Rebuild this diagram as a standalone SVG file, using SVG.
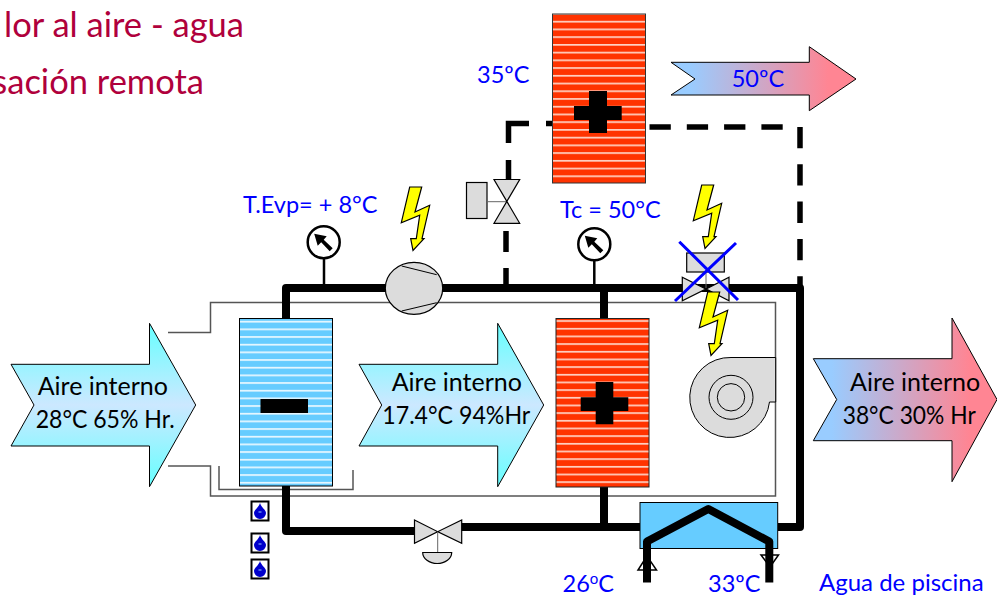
<svg xmlns="http://www.w3.org/2000/svg" width="997" height="596" viewBox="0 0 997 596">
<defs>
<linearGradient id="gCyan" x1="0" y1="0" x2="0" y2="1"><stop offset="0" stop-color="#66ffff"/><stop offset="0.5" stop-color="#cce8ff"/><stop offset="1" stop-color="#66ffff"/></linearGradient>
<linearGradient id="gHot" x1="0" y1="0" x2="1" y2="0"><stop offset="0.1" stop-color="#99ccff"/><stop offset="0.85" stop-color="#ff8593"/></linearGradient>
<pattern id="pRed" width="10" height="7.67" patternUnits="userSpaceOnUse" patternTransform="translate(0 320.2)"><rect width="10" height="7.67" fill="#ff3300"/><rect width="10" height="1.700" fill="#ffd2c4"/></pattern>
<pattern id="pRed2" width="10" height="7.73" patternUnits="userSpaceOnUse" patternTransform="translate(0 20.800)"><rect width="10" height="7.73" fill="#ff3300"/><rect width="10" height="1.700" fill="#ffd2c4"/></pattern>
<pattern id="pBlue" width="10" height="7.67" patternUnits="userSpaceOnUse" patternTransform="translate(0 320.800)"><rect width="10" height="7.67" fill="#66ccff"/><rect width="10" height="1.700" fill="#eaf8ff"/></pattern>
<path id="bolt" d="M8.700 0H20.700L14 25L28.700 18.300L21 51.700H23L12 63.500L9.700 51.700H15.300L18.700 28.300L0.300 35.700Z" fill="#ffff00" stroke="#000" stroke-width="1.200"/>
<g id="gauge"><circle r="16" fill="#fff" stroke="#000" stroke-width="2.500"/><path d="M-9.500 -8.500L3 -6L0 -2.500L9 6L6 9L-2.500 0L-6 3.500Z" fill="#000"/></g>
<g id="drop"><rect x="-8.500" y="-9.500" width="17" height="19" fill="#fff" stroke="#000" stroke-width="2"/><path d="M0 -8C1 -4 6 -1 6 2A6 6 0 0 1 -6 2C-6 -1 -1 -4 0 -8Z" fill="#0000cc"/><path d="M-1.500 1H1.500" stroke="#99ccff"/></g>
</defs>
<style>
.t{font-family:Lato,"Open Sans","Liberation Sans",sans-serif}
.blue{fill:#0000ff;font-size:23.500px}
.blk{fill:#000;font-size:25px}
.title{fill:#b0003c;font-size:34.500px;text-anchor:end}
.pipe{fill:none;stroke:#000;stroke-width:8;stroke-linejoin:round}
.dash{fill:none;stroke:#000;stroke-width:5.500;stroke-dasharray:21.300 16}
.solid{fill:none;stroke:#000;stroke-width:5.500}
.thin{fill:none;stroke:#555;stroke-width:1.500}
.dev{fill:#dcdcdc;stroke:#000;stroke-width:1.200}
</style>
<g id="title">
<text class="t title" x="244" y="37">lor al aire - agua</text>
<text class="t title" x="204" y="94">sación remota</text>
</g>
<g id="casing">
<path class="thin" d="M168 332.500H210.500V302.500H775.500V496H210.500V466H168"/>
<path class="thin" d="M219 466V489.500H353V470"/>
</g>
<g id="connectors">
<path class="pipe" d="M286 320V288H390M440 288H800V527H778"/>
<path class="pipe" d="M604 288V320"/>
<path class="pipe" d="M286 486V531H416M460 527H640"/>
<path class="pipe" d="M604 486V527"/>
<path class="solid" d="M506 284V268M506 252V231M508.500 180V160M508.500 143V123.500H529M546 123.500H555"/>
<path class="dash" d="M649.500 127H784"/>
<path class="dash" d="M800 127V285"/>
<path d="M324 258V288M594.300 260V288" stroke="#000" stroke-width="2.500"/>
</g>
<g id="evaporator"><rect x="239.500" y="318.500" width="93" height="167.500" fill="url(#pBlue)" stroke="#000"/><rect x="260.500" y="399" width="47.500" height="14"/></g>
<g id="condenser"><rect x="556" y="318.500" width="93" height="168.500" fill="url(#pRed)" stroke="#222"/><path d="M595.700 382H613.300V397.300H628.300V411H613.300V424.300H595.700V411H580.700V397.300H595.700Z"/></g>
<g id="remote-condenser"><rect x="552.500" y="14" width="93" height="169" fill="url(#pRed2)" stroke="#333"/><path d="M589 91H607V106H621.700V120H607V133H589V120H574V106H589Z"/></g>
<g id="exchanger"><rect x="640" y="502.500" width="137.700" height="46" fill="#66ccff" stroke="#000"/>
<path d="M647 556L638 570H656.500Z M770 567L761 555H778.500Z" fill="#fff" stroke="#000" stroke-width="1.500"/>
<path class="pipe" d="M647 582.500V541.500L708.300 509L769.300 541.500V582.500"/></g>
<g id="compressor"><ellipse cx="414" cy="288.300" rx="28.700" ry="26" fill="#dcdcdc" stroke="#000" stroke-width="1.200"/><path d="M401.700 266L436.700 274.700M401.700 311L436.700 302.700" stroke="#000"/></g>
<g id="gauge-evp"><use href="#gauge" x="323.700" y="242.300"/></g>
<g id="gauge-c"><use href="#gauge" x="594.300" y="244.300"/></g>
<g id="valve-remote"><rect x="466.500" y="182.500" width="20.500" height="36" class="dev"/><path d="M487 201.700H506" stroke="#666"/><path d="M494 179.500H519.700L494 223.300H519.700Z" class="dev"/></g>
<g id="valve-bottom"><path d="M414.500 520L437.700 531.700L461.700 520V543.300L437.700 531.700L414.500 543.300Z" class="dev"/><path d="M437.700 531.700V552.500" stroke="#666"/><path d="M422.700 552.500H451.700A14.500 11 0 0 1 422.700 552.500Z" class="dev"/></g>
<g id="bolt-compressor"><use href="#bolt" x="401" y="187"/></g>
<g id="bolt-valve"><use href="#bolt" x="693" y="185"/></g>
<g id="valve-crossed"><rect x="686.700" y="253" width="37.600" height="19" class="dev"/><path d="M706 272V289" stroke="#666"/><path d="M682.300 277.300L706 289L729 277.300V300.700L706 289L682.300 300.700Z" class="dev"/><path d="M675 301L736 243M679.300 241.700L738 300" stroke="#0000ff" stroke-width="3" fill="none"/></g>
<g id="bolt-fan"><use href="#bolt" x="699" y="292"/></g>
<g id="fan"><path d="M775.700 357.500H731A40 40 0 1 0 769.500 402H775.700Z" fill="#dcdcdc" stroke="#000"/><circle cx="731" cy="397.300" r="22" fill="none" stroke="#000"/><circle cx="731" cy="397.300" r="13.700" fill="none" stroke="#000"/></g>
<g id="drops"><use href="#drop" x="260" y="511"/><use href="#drop" x="260" y="543"/><use href="#drop" x="260" y="569"/></g>
<g id="arrow-in"><path d="M11 364.300H149.500V323.300L195.700 405L149.500 486.700V446H11L34 405Z" fill="url(#gCyan)" stroke="#000"/>
<text class="t blk" x="37.700" y="395">Aire interno</text><text class="t blk" x="35.700" y="427.700" textLength="139" lengthAdjust="spacingAndGlyphs">28°C 65% Hr.</text></g>
<g id="arrow-mid"><path d="M359 364.300H497.700V323.300L543.700 405L497.700 486.700V446H359L381.700 405Z" fill="url(#gCyan)" stroke="#000"/>
<text class="t blk" x="391.700" y="391">Aire interno</text><text class="t blk" x="382.300" y="424.300" textLength="148" lengthAdjust="spacingAndGlyphs">17.4°C 94%Hr</text></g>
<g id="arrow-out"><path d="M813.300 358.700H952V318L997 399.500L952 481.700V440.700H813.300L836.700 399.500Z" fill="url(#gHot)" stroke="#000"/>
<text class="t blk" x="850" y="391">Aire interno</text><text class="t blk" x="842.700" y="424" textLength="133" lengthAdjust="spacingAndGlyphs">38°C 30% Hr</text></g>
<g id="arrow-top"><path d="M671 62.300H809.300V46.700L856 79L809.300 110.700V95H671L695 79Z" fill="url(#gHot)" stroke="#000"/>
<text class="t blue" x="731.700" y="87">50ºC</text></g>
<g id="labels">
<text class="t blue" x="477" y="83">35ºC</text>
<text class="t blue" x="243" y="212.500">T.Evp= + 8°C</text>
<text class="t blue" x="560" y="218">Tc = 50°C</text>
<text class="t blue" x="562.500" y="591.500">26<tspan dy="-8" font-size="15">o</tspan><tspan dy="8">C</tspan></text>
<text class="t blue" x="708" y="591.500">33ºC</text>
<text class="t blue" x="819" y="591" style="font-size:24px">Agua de piscina</text>
</g>
</svg>
